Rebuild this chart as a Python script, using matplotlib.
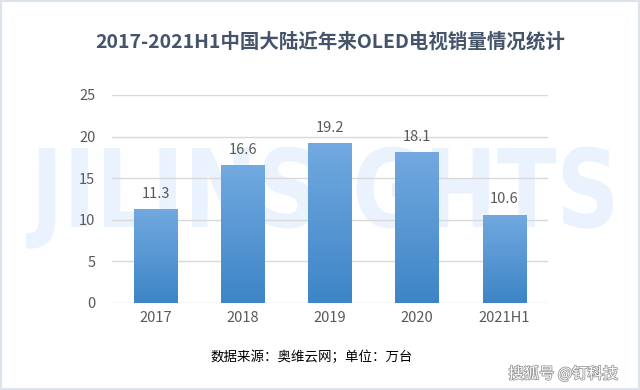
import numpy as np
import matplotlib
matplotlib.use("Agg")
import matplotlib.pyplot as plt
import matplotlib.patheffects as pe
from matplotlib.colors import LinearSegmentedColormap
from matplotlib.patches import Rectangle, PathPatch
from matplotlib.textpath import TextPath
from matplotlib.font_manager import FontProperties
from matplotlib.transforms import Affine2D, IdentityTransform

plt.rcParams["font.family"] = ["Noto Sans CJK SC", "DejaVu Sans"]

# data
YEARS = ["2017", "2018", "2019", "2020", "2021H1"]
SALES = [11.3, 16.6, 19.2, 18.1, 10.6]
YTICKS = [0, 5, 10, 15, 20, 25]

TITLE_COLOR = "#44546A"
TICK_COLOR = "#595959"
GRID_COLOR = "#D9D9D9"
BAR_TOP = "#72A9E0"
BAR_BOTTOM = "#3D85C6"
WM_COLOR = "#EAF2FD"

fig = plt.figure(figsize=(6.4, 3.9), dpi=100)

# watermark behind everything, squeezed into its box (pixels)
tp = TextPath((0, 0), "JILINSIGHTS", size=100,
              prop=FontProperties(family="DejaVu Sans", weight="bold"))
bb = tp.get_extents()
cap = 72.9
sx = (613 - 26) / bb.width
sy = (227 - 148) / cap
wm_tf = Affine2D().translate(-bb.x0, 0).scale(sx, sy).translate(26, 390 - 227)
wm = PathPatch(tp, transform=wm_tf + IdentityTransform(), color=WM_COLOR, lw=0, zorder=-5)
fig.add_artist(wm)

ax = fig.add_axes([112 / 640, 1 - 303 / 390, 436 / 640, 208 / 390])
ax.set_facecolor("none")

x = np.arange(len(YEARS))
bars = ax.bar(x, SALES, width=0.5, color="none", zorder=2)

# vertical gradient inside each bar
grad = np.linspace(0, 1, 256).reshape(-1, 1)
cmap = LinearSegmentedColormap.from_list("g", [BAR_BOTTOM, BAR_TOP])
for b in bars:
    x0, w, h = b.get_x(), b.get_width(), b.get_height()
    im = ax.imshow(grad, extent=[x0, x0 + w, 0, h], origin="lower",
                   cmap=cmap, aspect="auto", zorder=2)
    im.set_clip_path(Rectangle((x0, 0), w, h, transform=ax.transData))

for xi, v in zip(x, SALES):
    ax.text(xi, v + 1.0, f"{v}", ha="center", va="bottom", fontsize=10.5,
            color=TICK_COLOR)

ax.set_xlim(-0.5, len(YEARS) - 0.5)
ax.set_ylim(0, 25)
ax.set_yticks(YTICKS)
ax.set_xticks(x)
ax.set_xticklabels(YEARS)
ax.tick_params(axis="both", length=0, colors=TICK_COLOR, labelsize=10.5)
ax.tick_params(axis="y", pad=12)
ax.tick_params(axis="x", pad=6)
ax.grid(axis="y", color=GRID_COLOR, lw=1, zorder=0)
ax.set_axisbelow(True)
for s in ax.spines.values():
    s.set_visible(False)

fig.text(330 / 640, 1 - 42 / 390, "2017-2021H1中国大陆近年来OLED电视销量情况统计",
         ha="center", va="center", fontsize=14, fontweight="bold", color=TITLE_COLOR)
fig.text(312 / 640, 1 - 357 / 390, "数据来源：奥维云网；单位：万台",
         ha="center", va="center", fontsize=9.7, color="black")

fig.text(0.88, 1 - 374 / 390, "搜狐号 @钉科技", ha="center", va="center",
         fontsize=11, color="white", fontstyle="italic",
         path_effects=[pe.withStroke(linewidth=1.2, foreground="#999999")])

# thin border around image
fig.patches.append(Rectangle((0.002, 0.002), 0.996, 0.996, transform=fig.transFigure,
                             fill=False, edgecolor="#DDE3EA", lw=1.5))

fig.savefig("out.png", dpi=100)
